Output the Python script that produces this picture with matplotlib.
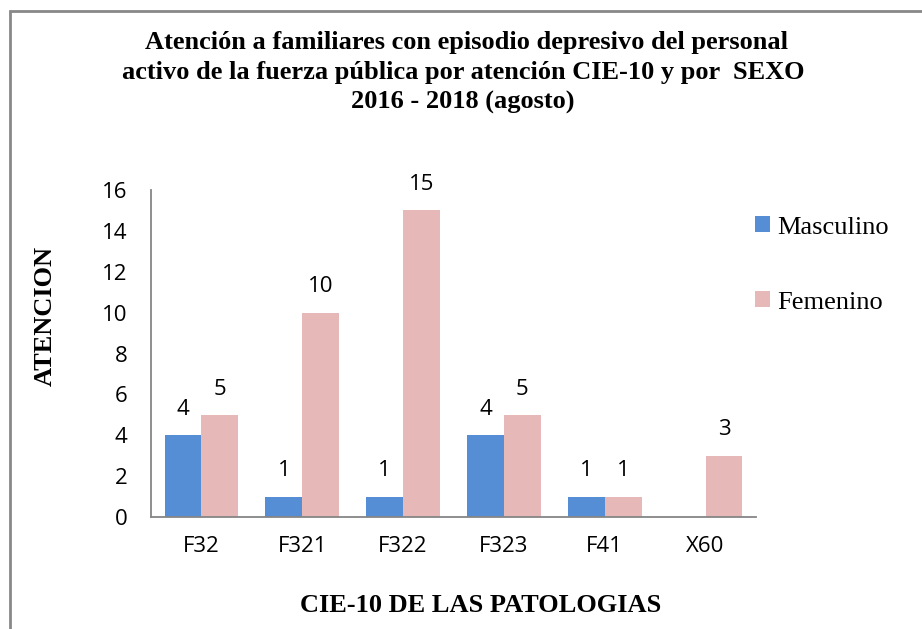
import matplotlib
matplotlib.use("Agg")
import matplotlib.pyplot as plt
import numpy as np
from matplotlib.patches import Rectangle

categories = ["F32", "F321", "F322", "F323", "F41", "X60"]
masculino = [4, 1, 1, 4, 1, 0]
femenino = [5, 10, 15, 5, 1, 3]
yticks = [0, 2, 4, 6, 8, 10, 12, 14, 16]

serif = ["Liberation Serif", "DejaVu Serif"]
sans = ["Open Sans", "DejaVu Sans"]

fig = plt.figure(figsize=(9.22, 6.29), dpi=100)
ax = fig.add_axes([151/922, 1-517/629, 605/922, 327/629])

x = np.arange(len(categories))
w = 0.365
blue = "#558ED5"
pink = "#E6B9B8"
b1 = ax.bar(x - w/2, masculino, w, color=blue, label="Masculino")
b2 = ax.bar(x + w/2, femenino, w, color=pink, label="Femenino")

for xi, v in zip(x, masculino):
    if v > 0:
        ax.annotate(str(v), (xi - w/2, v), xytext=(0, 11), textcoords="offset points",
                    ha="center", va="bottom", fontsize=16, family=sans)
for xi, v in zip(x, femenino):
    if v > 0:
        ax.annotate(str(v), (xi + w/2, v), xytext=(0, 11), textcoords="offset points",
                    ha="center", va="bottom", fontsize=16, family=sans)

ax.set_xlim(-0.5, len(categories) - 0.5)
ax.set_ylim(0, 16)
ax.set_yticks(yticks)
ax.set_xticks(x)
ax.set_xticklabels(categories, family=sans, fontsize=16)
for lbl in ax.get_yticklabels():
    lbl.set_family(sans)
    lbl.set_fontsize(16)
ax.tick_params(axis="both", length=0)
ax.tick_params(axis="x", pad=14)
ax.tick_params(axis="y", pad=17)
for s in ["top", "right"]:
    ax.spines[s].set_visible(False)
for s in ["left", "bottom"]:
    ax.spines[s].set_color("#868686")
    ax.spines[s].set_linewidth(1.3)

fig.text(466/922, 1-43/629, "Atención a familiares con episodio depresivo del personal",
         ha="center", va="center", fontsize=19, fontweight="bold", family=serif)
fig.text(463/922, 1-73/629, "activo de la fuerza pública por atención CIE-10 y por  SEXO",
         ha="center", va="center", fontsize=19, fontweight="bold", family=serif)
fig.text(463/922, 1-102/629, "2016 - 2018 (agosto)",
         ha="center", va="center", fontsize=19, fontweight="bold", family=serif)

fig.text(481/922, 1-605/629, "CIE-10 DE LAS PATOLOGIAS", ha="center", va="center",
         fontsize=19, fontweight="bold", family=serif)
fig.text(45/922, 1-316/629, "ATENCION", ha="center", va="center", rotation=90,
         fontsize=19, fontweight="bold", family=serif)

leg = fig.legend(handles=[b1, b2], labels=["Masculino", "Femenino"],
                 loc="upper left", bbox_to_anchor=(750/922, 1-211/629),
                 frameon=False, prop={"family": serif, "size": 19},
                 handlelength=0.55, handleheight=0.55, handletextpad=0.28,
                 labelspacing=2.0, borderaxespad=0, borderpad=0.2)

border = Rectangle((10/922, -0.1), 1.2, 1-11/629 + 0.1, transform=fig.transFigure,
                   fill=False, edgecolor="#888888", linewidth=2)
fig.patches.append(border)

fig.savefig("out.png", dpi=100)
